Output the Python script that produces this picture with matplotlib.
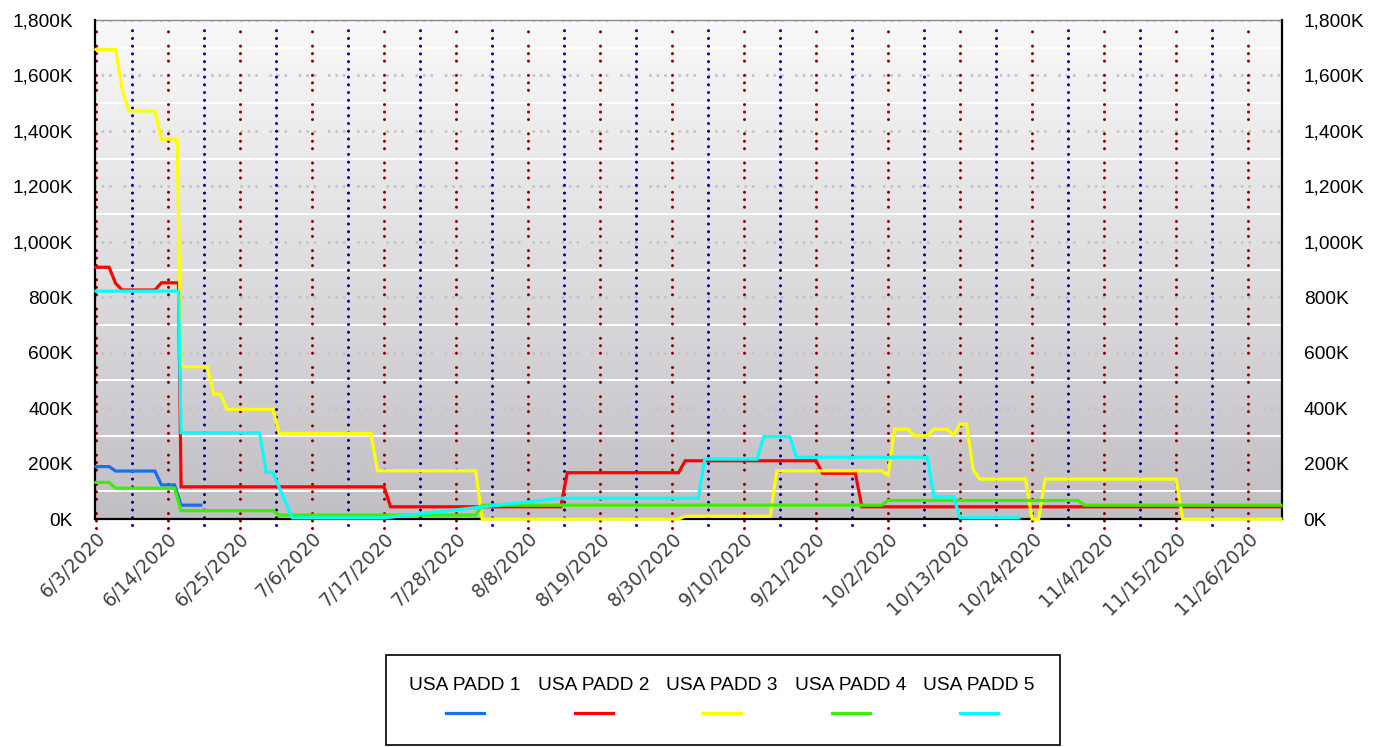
import numpy as np
import pandas as pd
import matplotlib
matplotlib.use("Agg")
import matplotlib.pyplot as plt
from matplotlib.colors import LinearSegmentedColormap
from matplotlib.patches import Rectangle
from matplotlib.lines import Line2D

# days are offsets from 6/3/2020, values in thousands
start = pd.Timestamp("2020-06-03")

padd1_days = [0, 2, 3, 9, 10, 12, 13, 16]
padd1_vals = [189, 189, 173, 173, 123, 123, 50, 50]

padd2_days = [0, 2, 3, 4, 9, 10, 12.6, 13, 44, 45, 71, 72, 89, 90, 110, 111, 116, 117, 181]
padd2_vals = [908, 908, 850, 826, 826, 852, 852, 116, 116, 44, 44, 167, 167, 210, 210, 165, 165, 44, 44]

padd3_days = [0, 3, 4, 5, 9, 10, 12.4, 13, 17, 18, 19, 20, 27, 28, 42, 43, 58, 59, 89, 90,
              103, 104, 120, 121, 122, 124, 125, 127, 128, 130, 131, 132, 133, 134, 135, 142,
              143, 144, 145, 165, 166, 181]
padd3_vals = [1694, 1694, 1550, 1472, 1472, 1370, 1370, 549, 549, 451, 451, 396, 396, 309, 309,
              174, 174, 0, 0, 10, 10, 174, 174, 159, 324, 324, 300, 300, 324, 324, 303, 342, 342,
              177, 144, 144, 0, 0, 144, 144, 0, 0]

padd4_days = [0, 2, 3, 12, 13, 27, 28, 58, 59, 120, 121, 150, 151, 181]
padd4_vals = [132, 132, 111, 111, 30, 30, 14, 14, 50, 50, 67, 67, 50, 50]

padd5_days = [0, 12.6, 13, 25, 26, 27, 30, 44, 71, 92, 93, 101, 102, 106, 107, 127, 128, 131, 132, 141]
padd5_vals = [822, 822, 311, 311, 168, 168, 4, 4, 75, 75, 216, 216, 297, 297, 223, 223, 80, 80, 4, 4]

series_names = ["USA PADD 1", "USA PADD 2", "USA PADD 3", "USA PADD 4", "USA PADD 5"]
series_colors = ["#1a6ff0", "#ff0000", "#ffff00", "#3cee00", "#00ffff"]

tick_days = list(range(0, 177, 11))
y_ticks = list(range(0, 1801, 200))

W, H = 1382, 747
fig = plt.figure(figsize=(W / 100, H / 100), dpi=100)
ax = fig.add_axes([95 / W, 1 - 519 / H, (1281.5 - 95) / W, (519 - 20) / H])

x0, x1 = -0.15, 181.1
ax.set_xlim(x0, x1)
ax.set_ylim(0, 1800)

# background gradient
cmap = LinearSegmentedColormap.from_list("bg", ["#c1bfc4", "#f9f9f9"])
grad = np.linspace(0, 1, 256).reshape(-1, 1)
ax.imshow(grad, extent=[x0, x1, 0, 1800], origin="lower", aspect="auto", cmap=cmap, zorder=0)

# grid lines
group_dots = (0, (0.01, 2.43, 0.01, 2.43, 0.01, 4.67))
for v in range(100, 1800, 200):
    ax.axhline(v, color="white", lw=1.4, zorder=1)
for v in range(200, 1801, 200):
    ax.axhline(v, color="#c4c4c4", lw=2.2, linestyle=group_dots, dash_capstyle="round", zorder=1)

for d in tick_days:
    ax.axvline(d, ymin=-0.018, ymax=0.99, color="#8b0000", lw=2.2, linestyle=group_dots,
               dash_capstyle="round", clip_on=False, zorder=2)
for d in np.arange(5.5, 181, 11):
    ax.axvline(d, ymin=-0.012, ymax=0.992, color="#000080", lw=2.2, linestyle=(0, (0.01, 2.52)),
               dash_capstyle="round", clip_on=False, zorder=2)

# data
all_days = [padd1_days, padd2_days, padd3_days, padd4_days, padd5_days]
all_vals = [padd1_vals, padd2_vals, padd3_vals, padd4_vals, padd5_vals]
for days, vals, name, col in zip(all_days, all_vals, series_names, series_colors):
    ax.plot(days, vals, color=col, lw=2.3, label=name, zorder=5, clip_on=False,
            solid_joinstyle="miter")

# spines
for side in ["left", "bottom", "right"]:
    ax.spines[side].set_color("black")
    ax.spines[side].set_linewidth(1.6)
    ax.spines[side].set_zorder(4)
ax.spines["top"].set_color("#8a8a8a")
ax.spines["top"].set_linewidth(1.0)

# ticks
ax.set_yticks(y_ticks)
ax.set_yticklabels([f"{v:,}K" for v in y_ticks], fontsize=13.8, family="Liberation Sans")
ax.tick_params(axis="y", length=0, pad=16, labelright=True)

tick_labels = []
for d in tick_days:
    t = start + pd.Timedelta(days=d)
    tick_labels.append(f"{t.month}/{t.day}/{t.year}")
ax.set_xticks(tick_days)
ax.set_xticklabels(tick_labels, rotation=45, ha="right", va="top", rotation_mode="anchor",
                   fontsize=13.5, color="#404040", family="DejaVu Sans")
ax.tick_params(axis="x", length=0, pad=7)

# legend box drawn by hand: labels above the line samples
fig.patches.append(Rectangle((386 / W, 1 - 745 / H), (1060 - 386) / W, (745 - 655) / H,
                             transform=fig.transFigure, fill=False, ec="black", lw=1.2))
for i, (name, col) in enumerate(zip(series_names, series_colors)):
    cx = 465 + 128.5 * i
    fig.text(cx / W, 1 - 685 / H, name, ha="center", va="center", fontsize=13.8,
             family="Liberation Sans", color="black")
    fig.lines.append(Line2D([(cx - 19) / W, (cx + 19) / W], [1 - 713 / H, 1 - 713 / H],
                            transform=fig.transFigure, color=col, lw=2.3))

fig.savefig("out.png", dpi=100)
